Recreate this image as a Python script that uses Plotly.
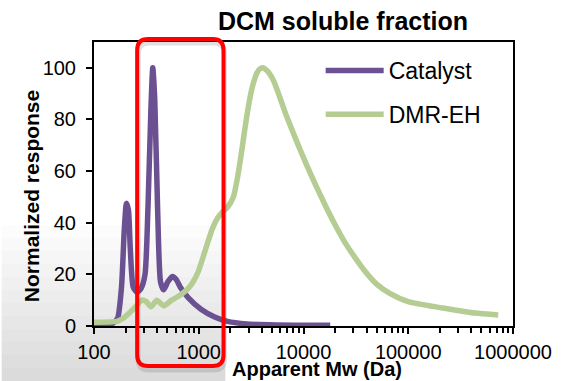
import plotly.graph_objects as go

# ---- data ----
cat_mw = [100, 127, 151, 168, 183, 195, 204, 213, 222, 237, 258, 281, 307, 327, 350, 364, 380,
          405, 432, 463, 505, 560, 610, 667, 792, 1050, 1420, 1880, 2880, 5500, 18000]
cat_resp = [0, 0.2, 1, 3, 15, 38, 47.5, 45, 30, 15, 13, 14.5, 20, 45, 85, 100, 88,
            45, 17, 14, 17, 19.2, 18, 15, 11, 6.5, 3.5, 1.8, 0.8, 0.4, 0.3]

dmr_mw = [100, 165, 190, 217, 250, 285, 314, 350, 398, 463, 550, 640, 743, 830, 903, 984,
          1096, 1221, 1359, 1514, 1687, 1880, 2140, 2333, 2543, 2772, 3020, 3294, 3591, 3831,
          4086, 4550, 5180, 5890, 6860, 8510, 10550, 13100, 16250, 20150, 24480, 31050,
          38500, 49900, 66000, 101600, 211800, 431500, 723000]
dmr_resp = [1.5, 1.8, 3, 5, 7.5, 10, 9.5, 7.5, 10, 7.8, 10, 11.5, 13.5, 15.5, 17.8, 20.8,
            26.5, 32.5, 38, 41.8, 44.2, 46, 50, 57, 66.5, 77, 86.5, 93.5, 98, 99.6,
            100, 98.6, 95, 89, 81.5, 72, 63, 54.5, 46.5, 39, 32.8, 26.5,
            21.3, 16.2, 12.7, 9.3, 7, 5, 4.3]

x_tick_vals = [100, 1000, 10000, 100000, 1000000]
x_tick_text = ["100", "1000", "10000", "100000", "1000000"]
x_minor_vals = [k * 10 ** d for d in range(2, 6) for k in range(2, 10)]
y_tick_vals = [0, 20, 40, 60, 80, 100]

title_text = "DCM soluble fraction"
x_title = "Apparent Mw (Da)"
y_title = "Normalized response"

PURPLE = "#6B5192"
GREEN = "#B5CC93"

W, H = 564, 381
L, R, T, B = 94, 521, 42, 326


def px(x):
    return (x - L) / (R - L)


def py(y):
    return (B - y) / (B - T)


def rounded_rect(x0, y0, x1, y1, r):
    rx = r / (R - L)
    ry = r / (B - T)
    a, b, c, d = px(x0), px(x1), py(y0), py(y1)  # c top, d bottom (paper)
    return (f"M{a+rx},{c} L{b-rx},{c} Q{b},{c} {b},{c-ry} L{b},{d+ry} Q{b},{d} {b-rx},{d} "
            f"L{a+rx},{d} Q{a},{d} {a},{d+ry} L{a},{c-ry} Q{a},{c} {a+rx},{c} Z")


fig = go.Figure()
fig.add_trace(go.Scatter(x=cat_mw, y=cat_resp, mode="lines", name="Catalyst",
                         line=dict(color=PURPLE, width=5.5, shape="spline", smoothing=0.6),
                         legendgroup="a"))
fig.add_trace(go.Scatter(x=dmr_mw, y=dmr_resp, mode="lines", name="DMR-EH",
                         line=dict(color=GREEN, width=5.5, shape="spline", smoothing=0.6),
                         legendgroup="b"))

shapes = []
# soft gray gradient in lower-left background
for k in range(12):
    y_top = 225 + k * 13
    shapes.append(dict(type="rect", xref="paper", yref="paper", layer="below",
                       x0=px(0), x1=px(228), y0=py(381), y1=py(y_top),
                       fillcolor="rgba(120,120,120,0.022)", line=dict(width=0)))
# shadow of highlight box
shapes.append(dict(type="path", xref="paper", yref="paper", layer="above",
                   path=rounded_rect(139, 43, 227, 370, 11),
                   line=dict(color="rgba(90,90,90,0.18)", width=5)))
# red highlight box
shapes.append(dict(type="path", xref="paper", yref="paper", layer="above",
                   path=rounded_rect(138, 39, 226, 366, 11),
                   line=dict(color="#FF0000", width=4)))

annotations = [
    dict(text=f"<b>{x_title}</b>", xref="paper", yref="paper", x=px(321), y=py(369),
         showarrow=False, font=dict(size=20, color="black"), xanchor="center", yanchor="middle"),
    dict(text=f"<b>{y_title}</b>", xref="paper", yref="paper", x=px(31), y=py(196),
         showarrow=False, textangle=-90, font=dict(size=21, color="black"),
         xanchor="center", yanchor="middle"),
]

fig.update_layout(
    width=W, height=H,
    margin=dict(l=L, r=W - R, t=T, b=H - B, pad=0),
    paper_bgcolor="white", plot_bgcolor="rgba(0,0,0,0)",
    font=dict(family="Liberation Sans, Arial, sans-serif", color="black"),
    title=dict(text=f"<b>{title_text}</b>", x=343 / W, xanchor="center",
               y=1 - 21 / H, yanchor="middle", yref="container",
               font=dict(size=25, color="black")),
    showlegend=True,
    legend=dict(x=px(325), y=py(49), xanchor="left", yanchor="top",
                font=dict(size=23), bgcolor="rgba(0,0,0,0)", itemwidth=58,
                tracegroupgap=11, traceorder="grouped"),
    shapes=shapes,
    annotations=annotations,
)

fig.update_xaxes(type="log", range=[2, 6], tickvals=x_tick_vals, ticktext=x_tick_text,
                 ticks="outside", ticklen=6, tickwidth=2, tickcolor="black",
                 minor=dict(tickvals=x_minor_vals, ticks="outside", ticklen=5,
                            tickwidth=2, tickcolor="black"),
                 showline=True, linewidth=2, linecolor="black", mirror=True,
                 showgrid=False, zeroline=False, tickfont=dict(size=20),
                 ticklabelstandoff=1)
fig.update_yaxes(range=[0, 110], tickvals=y_tick_vals, ticks="outside", ticklen=6,
                 tickwidth=2, tickcolor="black",
                 showline=True, linewidth=2, linecolor="black", mirror=True,
                 showgrid=False, zeroline=False, tickfont=dict(size=20),
                 ticklabelstandoff=6)

fig.write_html("out.html")
